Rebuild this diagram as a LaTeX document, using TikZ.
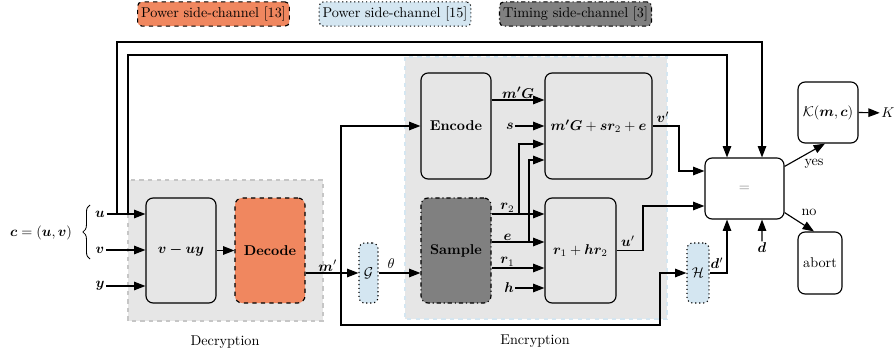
\documentclass[tikz,border=0pt]{standalone}
\usepackage{amsmath,bm}
\usetikzlibrary{arrows.meta,calc,decorations.pathreplacing}
\definecolor{pwrorange}{HTML}{F0875F}
\definecolor{pwrblue}{HTML}{D4E6F1}
\definecolor{tmgray}{HTML}{808080}
\definecolor{regionfill}{HTML}{E6E6E6}
\def\pxu{0.704pt}
\tikzset{
  arr/.style={-{Triangle[length=8pt,width=6pt]}, line width=0.8pt},
  ln/.style={line width=0.8pt},
  blockbox/.style={draw, line width=0.8pt, rounded corners=5pt, align=center, inner sep=1pt},
  legendbox/.style={line width=0.8pt, rounded corners=3pt, inner sep=2.5pt, minimum height=17pt},
  region/.style={line width=0.8pt, dashed, fill=regionfill},
  lbl/.style={inner sep=1pt},
}
\begin{document}
\begin{tikzpicture}[x=0.704pt, y=-0.704pt]
\useasboundingbox (0,0) rectangle (895,354);

% legend
\node[legendbox, fill=pwrorange, draw, dashed] (lg1) at (213.5,14) {Power side-channel [13]};
\node[legendbox, fill=pwrblue, draw, dotted] (lg2) at (395,14) {Power side-channel [15]};
\node[legendbox, fill=tmgray, draw, dash dot] (lg3) at (575.5,14) {Timing side-channel [3]};

% regions
\draw[region, draw=gray!45] (128,180) rectangle (323,321);
\draw[region, draw=pwrblue] (405,57) rectangle (667,319);
\node (decl) at (225,342) {Decryption};
\node (encl) at (535,341) {Encryption};

% blocks
\node[blockbox, minimum width=70*\pxu, minimum height=105*\pxu] (vuy) at (181,250.5) {$\bm{v-uy}$};
\node[blockbox, fill=pwrorange, dashed, minimum width=70*\pxu, minimum height=105*\pxu] (dec) at (270,250.5) {\textbf{Decode}};
\node[blockbox, minimum width=70*\pxu, minimum height=106*\pxu] (enc) at (456,126) {\textbf{Encode}};
\node[blockbox, minimum width=107*\pxu, minimum height=106*\pxu] (mg) at (598.5,126) {$\bm{m'G}+\bm{sr}_2+\bm{e}$};
\node[blockbox, fill=tmgray, dash dot, minimum width=70*\pxu, minimum height=105*\pxu] (samp) at (456,250.5) {\textbf{Sample}};
\node[blockbox, minimum width=71*\pxu, minimum height=105*\pxu] (rh) at (580.5,250.5) {$\bm{r}_1+\bm{hr}_2$};
\node[blockbox, fill=pwrblue, dotted, rounded corners=4pt, minimum width=19*\pxu, minimum height=60*\pxu] (G) at (368.5,273) {$\mathcal{G}$};
\node[blockbox, fill=pwrblue, dotted, rounded corners=4pt, minimum width=22*\pxu, minimum height=60*\pxu] (H) at (698,273) {$\mathcal{H}$};
\node[blockbox, fill=white, minimum width=79*\pxu, minimum height=61*\pxu] (eq) at (744.5,188.5) {\textcolor{gray}{$=$}};
\node[blockbox, minimum width=60*\pxu, minimum height=61*\pxu] (kb) at (828,112.5) {$\mathcal{K}(\bm{m},\bm{c})$};
\node[blockbox, minimum width=44*\pxu, minimum height=62*\pxu] (ab) at (820,263) {abort};

% ciphertext inputs
\node (cuv) at (41,233) {$\bm{c}=(\bm{u},\bm{v})$};
\draw[line width=0.6pt, decorate, decoration={brace, amplitude=5pt}] (90,259) -- (90,205);
\node[lbl] (lu) at (100,214) {$\bm{u}$};
\node[lbl] (lv) at (100,250) {$\bm{v}$};
\node[lbl] (ly) at (100,286) {$\bm{y}$};
\draw[arr] (lu) -- (lu -| vuy.west);
\draw[arr] (lv) -- (lv -| vuy.west);
\draw[arr] (ly) -- (ly -| vuy.west);

% u forwarded to the comparison
\coordinate (ua) at (117,214);
\coordinate (ub) at (128,214);
\draw[arr] (ua) -- (117,42) -| ($(eq.north)+(17.5,0)$);
\draw[arr] (ub) -- (128,55) -| ($(eq.north)+(-17.5,0)$);

% decryption
\draw[arr] (vuy) -- (dec);
\coordinate (mo) at (dec.east |- G);
\coordinate (mb) at (341,273);
\draw[arr] (mo) -- (G.west) node[pos=0.42, above, lbl] {$\bm{m}'$};
\draw[arr] (mb) |- (enc.west);
\draw[arr] (mb) -- (341,325) -| (660,273) -- (H.west);

% encryption
\draw[arr] (G.east) -- (samp.west |- G.east) node[pos=0.3, above, lbl, yshift=2pt] {$\theta$};
\draw[arr] (enc.east |- 0,100) -- (mg.west |- 0,100) node[midway, above, lbl] {$\bm{m'G}$};
\node[lbl] (ls) at (510,126) {$\bm{s}$};
\draw[arr] (ls) -- (ls -| mg.west);

\draw[arr] (samp.east |- 0,214) -- (rh.west |- 0,214) node[pos=0.3, above, lbl] {$\bm{r}_2$};
\draw[arr] (samp.east |- 0,242) -- (rh.west |- 0,242) node[pos=0.3, above, lbl] {$\bm{e}$};
\draw[arr] (samp.east |- 0,268) -- (rh.west |- 0,268) node[pos=0.3, above, lbl] {$\bm{r}_1$};
\node[lbl] (lh) at (509,288) {$\bm{h}$};
\draw[arr] (lh) -- (lh -| rh.west);
\draw[arr] (519,214) |- (mg.west |- 0,144);
\draw[arr] (529,242) |- (mg.west |- 0,160);

% outputs to the comparison
\draw[arr] (mg.east) -- (679,126) |- (eq.west |- 0,171);
\node[lbl] at (663,117) {$\bm{v}'$};
\draw[arr] (rh.east) -- (643,250.5) |- (eq.west |- 0,206);
\node[lbl] at (628,241) {$\bm{u}'$};
\draw[arr] (H.east) -| ($(eq.south)+(-17.5,0)$);
\node[lbl] at (717,263) {$\bm{d}'$};
\node[lbl] (ld) at (762,248) {$\bm{d}$};
\draw[arr] (ld) -- ($(eq.south)+(17.5,0)$);

% decision
\draw[arr] (eq.north east) ++(0,9) coordinate (ys) -- (kb.south -| 825,0);
\node[lbl] at (814,164) {yes};
\draw[arr] (eq.south east) ++(0,-7) coordinate (ns) -- (ab.north -| 814,0);
\node[lbl] at (809,212) {no};
\node[lbl] (kk) at (888,113) {$K$};
\draw[arr] (kb.east) -- (kk);
\end{tikzpicture}
\end{document}
